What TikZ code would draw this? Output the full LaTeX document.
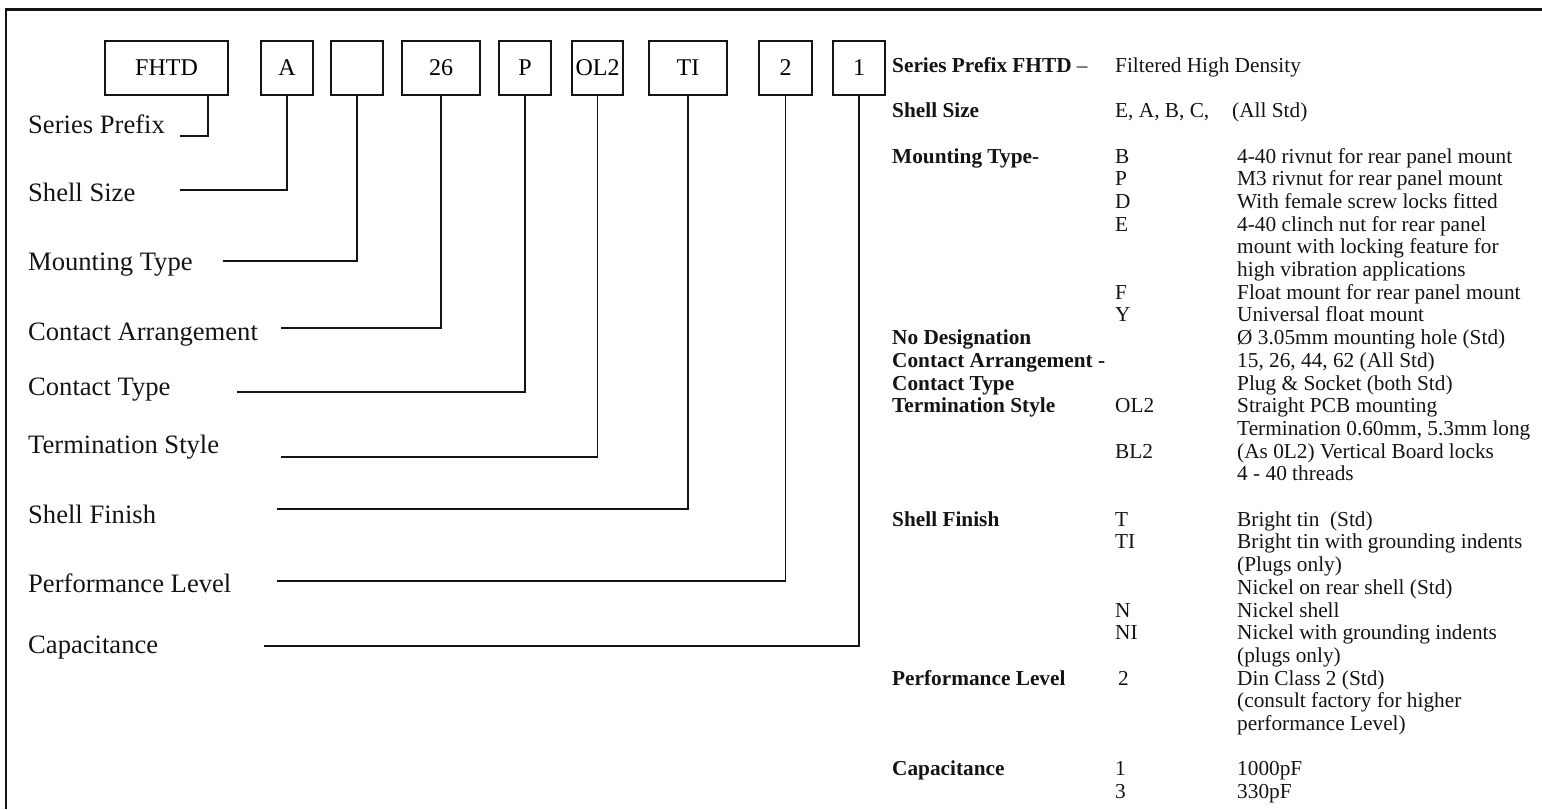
\documentclass[tikz,border=0pt]{standalone}
\usepackage{fontspec}
\setmainfont{Liberation Serif}
\usepackage{tikz}
\usetikzlibrary{calc}
\definecolor{ink}{HTML}{141414}
\tikzset{
  frame/.style={draw=ink, line width=2.5pt},
  slot/.style={draw=ink, line width=2pt, inner sep=0pt, minimum height=54pt,
    font=\fontsize{24}{28}\selectfont},
  lead/.style={draw=ink, line width=1.8pt},
  lab/.style={anchor=base west, inner sep=0pt, text=ink, font=\fontsize{26.6}{30}\selectfont},
  key/.style={anchor=base west, inner sep=0pt, text=ink, font=\fontsize{21.3}{24}\selectfont\bfseries},
  val/.style={anchor=base west, inner sep=0pt, text=ink, font=\fontsize{21.3}{24}\selectfont},
}

\begin{document}
\begin{tikzpicture}[x=1pt,y=-1pt]
  \useasboundingbox (0,0) rectangle (1542,809);
  \draw[frame] (6,809) -- (6,9.5) -- (1542,9.5);

  % part number boxes
  \node[slot,minimum width=123pt] (bpre)   at (166.5,67.5) {FHTD};
  \node[slot,minimum width=52pt]  (bsize)  at (287,67.5)   {A};
  \node[slot,minimum width=52pt]  (bmount) at (357,67.5)   {};
  \node[slot,minimum width=78pt]  (barr)   at (441,67.5)   {26};
  \node[slot,minimum width=52pt]  (btype)  at (525,67.5)   {P};
  \node[slot,minimum width=51pt]  (bterm)  at (597.5,67.5) {OL2};
  \node[slot,minimum width=78pt]  (bfin)   at (688,67.5)   {TI};
  \node[slot,minimum width=53pt]  (bperf)  at (785.5,67.5) {2};
  \node[slot,minimum width=52pt]  (bcap)   at (859,67.5)   {1};

  % field names
  \node[lab] (lpre)   at (28,133) {Series Prefix};
  \node[lab] (lsize)  at (28,201) {Shell Size};
  \node[lab] (lmount) at (28,270) {Mounting Type};
  \node[lab] (larr)   at (28,340) {Contact Arrangement};
  \node[lab] (ltype)  at (28,395) {Contact Type};
  \node[lab] (lterm)  at (28,453) {Termination Style};
  \node[lab] (lfin)   at (28,523) {Shell Finish};
  \node[lab] (lperf)  at (28,592) {Performance Level};
  \node[lab] (lcap)   at (28,653) {Capacitance};

  % leads from the boxes
  \coordinate (epre)   at (180,136);
  \coordinate (esize)  at (180,190);
  \coordinate (emount) at (223,261);
  \coordinate (earr)   at (281,328);
  \coordinate (etype)  at (237,392);
  \coordinate (eterm)  at (281,457);
  \coordinate (efin)   at (277,509);
  \coordinate (eperf)  at (277,581);
  \coordinate (ecap)   at (264,646);
  \draw[lead] ($(bpre.south east)+(-21,0)$) |- (epre);
  \draw[lead] (bsize.south)  |- (esize);
  \draw[lead] (bmount.south) |- (emount);
  \draw[lead] (barr.south)   |- (earr);
  \draw[lead] (btype.south)  |- (etype);
  \draw[lead] (bterm.south)  |- (eterm);
  \draw[lead] (bfin.south)   |- (efin);
  \draw[lead] (bperf.south)  |- (eperf);
  \draw[lead] (bcap.south)   |- (ecap);

  % key on the right
  \node[key] (hpre)   at (892,72.2)  {Series Prefix FHTD \textmd{\textendash}};
  \node[val] (dpre)   at (1115,72.2) {Filtered High Density};
  \node[key] (hsize)  at (892,117.6) {Shell Size};
  \node[val] (csize)  at (1115,117.6) {E, A, B, C,};
  \node[val] (dsize)  at (1232,117.6) {(All Std)};

  \node[key] (hmount) at (892,163)   {Mounting Type-};
  \node[val] (cB)     at (1115,163)  {B};
  \node[val] (dB)     at (1237,163)  {4-40 rivnut for rear panel mount};
  \node[val] (cP)     at (1115,185.7) {P};
  \node[val] (dP)     at (1237,185.7) {M3 rivnut for rear panel mount};
  \node[val] (cD)     at (1115,208.4) {D};
  \node[val] (dD)     at (1237,208.4) {With female screw locks fitted};
  \node[val] (cE)     at (1115,231.1) {E};
  \node[val] (dEa)    at (1237,231.1) {4-40 clinch nut for rear panel};
  \node[val] (dEb)    at (1237,253.8) {mount with locking feature for};
  \node[val] (dEc)    at (1237,276.5) {high vibration applications};
  \node[val] (cF)     at (1115,299.2) {F};
  \node[val] (dF)     at (1237,299.2) {Float mount for rear panel mount};
  \node[val] (cY)     at (1115,321.9) {Y};
  \node[val] (dY)     at (1237,321.9) {Universal float mount};

  \node[key] (hnone)  at (892,344.6) {No Designation};
  \node[val] (dnone)  at (1237,344.6) {Ø 3.05mm mounting hole (Std)};
  \node[key] (harr)   at (892,367.3) {Contact Arrangement -};
  \node[val] (darr)   at (1237,367.3) {15, 26, 44, 62 (All Std)};
  \node[key] (htype)  at (892,390)   {Contact Type};
  \node[val] (dtype)  at (1237,390)  {Plug \& Socket (both Std)};

  \node[key] (hterm)  at (892,412.7) {Termination Style};
  \node[val] (cOL)    at (1115,412.7) {OL2};
  \node[val] (dOLa)   at (1237,412.7) {Straight PCB mounting};
  \node[val] (dOLb)   at (1237,435.4) {Termination 0.60mm, 5.3mm long};
  \node[val] (cBL)    at (1115,458.1) {BL2};
  \node[val] (dBLa)   at (1237,458.1) {(As 0L2) Vertical Board locks};
  \node[val] (dBLb)   at (1237,480.8) {4 - 40 threads};

  \node[key] (hfin)   at (892,526.2) {Shell Finish};
  \node[val] (cT)     at (1115,526.2) {T};
  \node[val] (dT)     at (1237,526.2) {Bright tin\ \ (Std)};
  \node[val] (cTI)    at (1115,548.9) {TI};
  \node[val] (dTIa)   at (1237,548.9) {Bright tin with grounding indents};
  \node[val] (dTIb)   at (1237,571.6) {(Plugs only)};
  \node[val] (dR)     at (1237,594.3) {Nickel on rear shell (Std)};
  \node[val] (cN)     at (1115,617)  {N};
  \node[val] (dN)     at (1237,617)  {Nickel shell};
  \node[val] (cNI)    at (1115,639.7) {NI};
  \node[val] (dNIa)   at (1237,639.7) {Nickel with grounding indents};
  \node[val] (dNIb)   at (1237,662.4) {(plugs only)};

  \node[key] (hperf)  at (892,685.1) {Performance Level};
  \node[val] (c2)     at (1118,685.1) {2};
  \node[val] (d2a)    at (1237,685.1) {Din Class 2 (Std)};
  \node[val] (d2b)    at (1237,707.8) {(consult factory for higher};
  \node[val] (d2c)    at (1237,730.5) {performance Level)};

  \node[key] (hcap)   at (892,775.9) {Capacitance};
  \node[val] (c1)     at (1115,775.9) {1};
  \node[val] (d1)     at (1237,775.9) {1000pF};
  \node[val] (c3)     at (1115,798.6) {3};
  \node[val] (d3)     at (1237,798.6) {330pF};
\end{tikzpicture}
\end{document}
